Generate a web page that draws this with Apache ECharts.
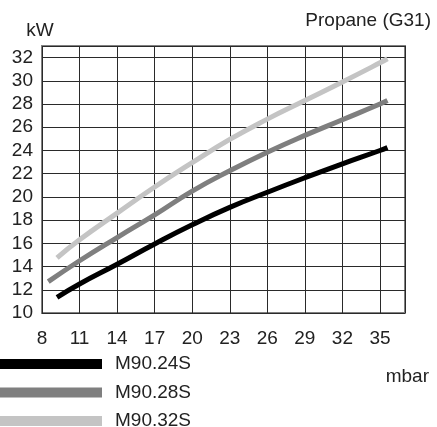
<!DOCTYPE html>
<html>
<head>
<meta charset="utf-8">
<script src="https://cdn.jsdelivr.net/npm/echarts@6/dist/echarts.min.js"></script>
<style>
html,body{margin:0;padding:0;background:#fff;}
#chart{width:437px;height:427px;}
</style>
</head>
<body>
<div id="chart"></div>
<script>
const seriesNames = ['M90.24S', 'M90.28S', 'M90.32S'];
const pressure24 = [9.2, 11, 14, 17, 20, 23, 26, 29, 32, 35, 35.6];
const power24 = [11.35, 12.5, 14.2, 15.95, 17.6, 19.1, 20.4, 21.65, 22.85, 24.0, 24.25];
const pressure28 = [8.5, 11, 14, 17, 20, 23, 26, 29, 32, 35, 35.6];
const power28 = [12.7, 14.5, 16.5, 18.45, 20.5, 22.25, 23.85, 25.3, 26.65, 28.0, 28.3];
const pressure32 = [9.2, 11, 14, 17, 20, 23, 26, 29, 32, 35, 35.6];
const power32 = [14.75, 16.3, 18.6, 20.85, 22.95, 24.95, 26.7, 28.3, 29.9, 31.55, 31.9];
const xTicks = [8, 11, 14, 17, 20, 23, 26, 29, 32, 35];
const yTicks = [10, 12, 14, 16, 18, 20, 22, 24, 26, 28, 30, 32];
const colors = ['#000000', '#7f7f7f', '#c4c4c4'];

const FONT = '"Liberation Sans", Arial, Helvetica, sans-serif';
const pair = (xs, ys) => xs.map((x, i) => [x, ys[i]]);

const chart = echarts.init(document.getElementById('chart'), null, {renderer: 'canvas'});
chart.setOption({
  animation: false,
  backgroundColor: '#ffffff',
  textStyle: {fontFamily: FONT, color: '#222'},
  title: [
    {text: 'Propane (G31)', right: 6, top: 11, padding: 0,
     textStyle: {fontFamily: FONT, fontSize: 19, fontWeight: 'normal', color: '#222'}},
    {text: 'mbar', right: 8, top: 367, padding: 0,
     textStyle: {fontFamily: FONT, fontSize: 19, fontWeight: 'normal', color: '#222'}}
  ],
  grid: {left: 42, right: 32, top: 46, bottom: 114, show: true,
         borderColor: '#808080', borderWidth: 2, containLabel: false},
  legend: {
    orient: 'vertical', left: 0, top: 354.5, height: 80, padding: 0,
    itemWidth: 102, itemHeight: 10, itemGap: 9.5,
    icon: 'rect',
    textStyle: {fontFamily: FONT, fontSize: 19, color: '#222', padding: [0, 0, 0, 8]},
    data: seriesNames
  },
  xAxis: {
    type: 'value', min: 8, max: 37, interval: 3,
    axisLine: {show: false}, axisTick: {show: false},
    axisLabel: {fontFamily: FONT, fontSize: 19, color: '#222', margin: 16,
      showMaxLabel: false,
      formatter: v => xTicks.includes(v) ? String(v) : ''},
    splitLine: {show: true, lineStyle: {color: '#2a2a2a', width: 1}}
  },
  yAxis: {
    type: 'value', min: 10, max: 33, interval: 2,
    name: 'kW', nameLocation: 'end', nameGap: 6,
    nameTextStyle: {fontFamily: FONT, fontSize: 19, color: '#222', align: 'center', padding: [0, 4, 0, 0]},
    axisLine: {show: false}, axisTick: {show: false},
    axisLabel: {fontFamily: FONT, fontSize: 19, color: '#222', margin: 9,
      showMaxLabel: false,
      formatter: v => yTicks.includes(v) ? String(v) : ''},
    splitLine: {show: true, lineStyle: {color: '#2a2a2a', width: 1}}
  },
  series: [
    {name: seriesNames[0], type: 'line', data: pair(pressure24, power24),
     showSymbol: false, smooth: 0.5, color: colors[0],
     lineStyle: {width: 5, color: colors[0], cap: 'butt'}},
    {name: seriesNames[1], type: 'line', data: pair(pressure28, power28),
     showSymbol: false, smooth: 0.5, color: colors[1],
     lineStyle: {width: 5, color: colors[1], cap: 'butt'}},
    {name: seriesNames[2], type: 'line', data: pair(pressure32, power32),
     showSymbol: false, smooth: 0.5, color: colors[2],
     lineStyle: {width: 5, color: colors[2], cap: 'butt'}}
  ]
});
</script>
</body>
</html>
